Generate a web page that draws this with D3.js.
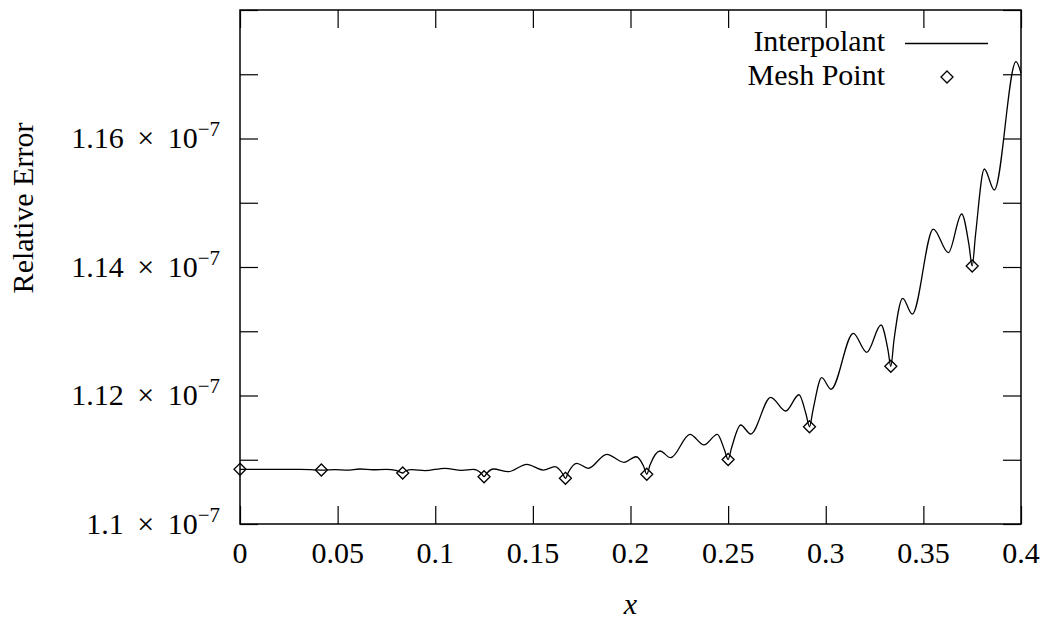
<!DOCTYPE html>
<html>
<head>
<meta charset="utf-8">
<script src="https://cdn.jsdelivr.net/npm/d3@7"></script>
<style>
body { margin: 0; background: #fff; }
text { font-family: "Liberation Serif", "Times New Roman", serif; fill: #000; }
</style>
</head>
<body>
<div id="chart"></div>
<script>
// values (y in units of 1e-7)
var xTicks = [0, 0.05, 0.1, 0.15, 0.2, 0.25, 0.3, 0.35, 0.4];
var xTickLabels = ["0", "0.05", "0.1", "0.15", "0.2", "0.25", "0.3", "0.35", "0.4"];
var yTicks = [1.10, 1.11, 1.12, 1.13, 1.14, 1.15, 1.16, 1.17, 1.18];
var yLabelTicks = [1.10, 1.12, 1.14, 1.16];
var yTickLabels = ["1.1", "1.12", "1.14", "1.16"];
var legendLabels = ["Interpolant", "Mesh Point"];

var meshX = [0, 0.04167, 0.08333, 0.125, 0.16667, 0.20833, 0.25, 0.29167, 0.33333, 0.375];
var meshY = [1.10851, 1.10840, 1.10794, 1.10736, 1.10711, 1.10774, 1.11004, 1.11514, 1.12455, 1.14016];

var curveX = [0, 0.0205, 0.0307, 0.04167, 0.04866, 0.0548, 0.06146, 0.06812, 0.07478, 0.0799, 0.08333,
    0.08476, 0.08794, 0.09475, 0.10499, 0.11355, 0.11949, 0.12343, 0.125,
    0.1265, 0.12973, 0.13741, 0.14684, 0.15534, 0.16133, 0.16517, 0.16667,
    0.16825, 0.17245, 0.17839, 0.18781, 0.19667, 0.20282, 0.20666, 0.20833,
    0.20999, 0.21511, 0.22059, 0.23047, 0.23764, 0.24446, 0.24814, 0.25,
    0.25173, 0.25644, 0.26156, 0.2718, 0.27949, 0.2863, 0.28988, 0.29167,
    0.29347, 0.29792, 0.30269, 0.31411, 0.32097, 0.3283, 0.33188, 0.33333,
    0.33495, 0.3394, 0.34433, 0.35508, 0.36277, 0.36962, 0.37337, 0.375,
    0.3767, 0.3812, 0.38633, 0.39744, 0.4];
var curveY = [1.10851, 1.10851, 1.10850, 1.10840, 1.10847, 1.10839, 1.10856, 1.10844, 1.10851, 1.10836, 1.10794,
    1.10825, 1.10845, 1.10830, 1.10867, 1.10836, 1.10851, 1.10794, 1.10736,
    1.10794, 1.10856, 1.10814, 1.10929, 1.10840, 1.10892, 1.10786, 1.10711,
    1.10809, 1.10945, 1.10867, 1.11085, 1.10960, 1.11047, 1.10903, 1.10774,
    1.10918, 1.11136, 1.11032, 1.11396, 1.11230, 1.11396, 1.11152, 1.11004,
    1.11183, 1.11541, 1.11401, 1.11972, 1.11759, 1.12012, 1.11712, 1.11514,
    1.11774, 1.12277, 1.12097, 1.12968, 1.12672, 1.13097, 1.12708, 1.12455,
    1.12864, 1.13513, 1.13268, 1.14591, 1.14223, 1.14825, 1.14342, 1.14016,
    1.14498, 1.15525, 1.15198, 1.17195, 1.17019];

// dimensions
var W = 1049, H = 620;
var margin = { top: 10, right: 28, bottom: 96, left: 240 },
    width = W - margin.left - margin.right,
    height = H - margin.top - margin.bottom;
var tick = 18;
var fs = 30;

var svg = d3.select("#chart")
    .append("svg")
    .attr("width", W)
    .attr("height", H);

var g = svg.append("g")
    .attr("transform", "translate(" + margin.left + "," + margin.top + ")");

var x = d3.scaleLinear().domain([0, 0.4]).range([0, width]);
var y = d3.scaleLinear().domain([1.10, 1.18]).range([height, 0]);

function styleAxis(sel) {
    sel.select(".domain").remove();
    sel.selectAll("line").attr("stroke", "#000").attr("stroke-width", 1.2);
}

// ticks pointing inward on all four sides
g.append("g").attr("transform", "translate(0," + height + ")")
    .call(d3.axisBottom(x).tickValues(xTicks).tickSize(-tick).tickFormat(""))
    .call(styleAxis);
g.append("g")
    .call(d3.axisTop(x).tickValues(xTicks).tickSize(-tick).tickFormat(""))
    .call(styleAxis);
g.append("g")
    .call(d3.axisLeft(y).tickValues(yTicks).tickSize(-tick).tickFormat(""))
    .call(styleAxis);
g.append("g").attr("transform", "translate(" + width + ",0)")
    .call(d3.axisRight(y).tickValues(yTicks).tickSize(-tick).tickFormat(""))
    .call(styleAxis);

// frame
g.append("rect")
    .attr("width", width)
    .attr("height", height)
    .attr("fill", "none")
    .attr("stroke", "#000")
    .attr("stroke-width", 1.5);

// x tick labels
g.selectAll(".xl")
    .data(xTicks)
    .enter().append("text")
    .attr("x", function (d) { return x(d); })
    .attr("y", height + 39)
    .attr("text-anchor", "middle")
    .attr("font-size", fs)
    .text(function (d, i) { return xTickLabels[i]; });

// y tick labels, a x 10^-7
var yl = g.selectAll(".yl")
    .data(yLabelTicks)
    .enter().append("text")
    .attr("x", -20)
    .attr("y", function (d) { return y(d) + 9.5; })
    .attr("text-anchor", "end")
    .attr("font-size", fs);
yl.append("tspan").text(function (d, i) { return yTickLabels[i] + "\u2009 \u00d7\u2009 10"; });
yl.append("tspan").attr("dy", -12).attr("font-size", 21).text("\u22127");

// axis titles
svg.append("text")
    .attr("x", margin.left + width / 2)
    .attr("y", 614)
    .attr("text-anchor", "middle")
    .attr("font-size", fs)
    .attr("font-style", "italic")
    .text("x");
svg.append("text")
    .attr("transform", "translate(33,208) rotate(-90)")
    .attr("text-anchor", "middle")
    .attr("font-size", fs)
    .text("Relative Error");

// interpolant curve
var pts = curveX.map(function (d, i) { return [d, curveY[i]]; });
var line = d3.line()
    .x(function (d) { return x(d[0]); })
    .y(function (d) { return y(d[1]); })
    .curve(d3.curveMonotoneX);
g.append("path")
    .datum(pts)
    .attr("d", line)
    .attr("fill", "none")
    .attr("stroke", "#000")
    .attr("stroke-width", 1.3);

// mesh points
var diamond = "M0,-6L6,0L0,6L-6,0Z";
g.selectAll(".mesh")
    .data(meshX)
    .enter().append("path")
    .attr("d", diamond)
    .attr("transform", function (d, i) { return "translate(" + x(d) + "," + y(meshY[i]) + ")"; })
    .attr("fill", "none")
    .attr("stroke", "#000")
    .attr("stroke-width", 1.3);

// legend
var leg = svg.append("g");
leg.selectAll("text")
    .data(legendLabels)
    .enter().append("text")
    .attr("x", 885)
    .attr("y", function (d, i) { return 51 + i * 33.5; })
    .attr("text-anchor", "end")
    .attr("font-size", fs)
    .text(function (d) { return d; });
leg.append("line")
    .attr("x1", 905).attr("x2", 988)
    .attr("y1", 43.5).attr("y2", 43.5)
    .attr("stroke", "#000")
    .attr("stroke-width", 1.3);
leg.append("path")
    .attr("d", diamond)
    .attr("transform", "translate(947,77)")
    .attr("fill", "none")
    .attr("stroke", "#000")
    .attr("stroke-width", 1.3);
</script>
</body>
</html>
